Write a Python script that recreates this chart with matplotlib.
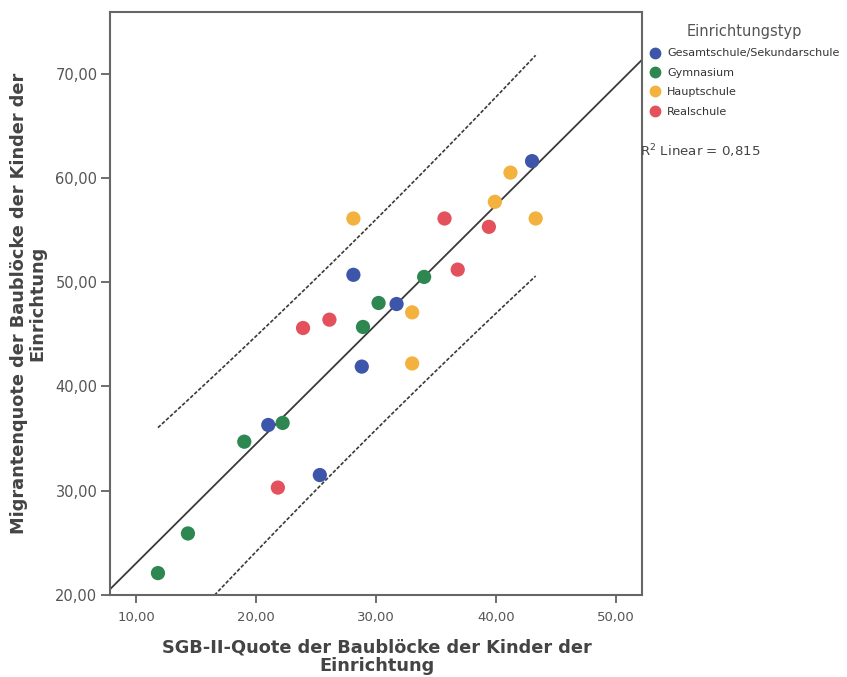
import numpy as np
import matplotlib
matplotlib.use("Agg")
import matplotlib.pyplot as plt
from matplotlib.lines import Line2D

plt.rcParams['font.family'] = ['DejaVu Sans']

# SGB-II-Quote (x) and Migrantenquote (y) per school, grouped by type
categories = ["Gesamtschule/Sekundarschule", "Gymnasium", "Hauptschule", "Realschule"]
colors = ["#3e56a9", "#2e8751", "#f3b13e", "#e3515c"]

gesamt_x = [21.0, 25.3, 28.1, 31.7, 28.8, 43.0]
gesamt_y = [36.3, 31.5, 50.7, 47.9, 41.9, 61.6]
gymn_x = [11.8, 14.3, 19.0, 22.2, 34.0, 30.2, 28.9]
gymn_y = [22.1, 25.9, 34.7, 36.5, 50.5, 48.0, 45.7]
haupt_x = [28.1, 33.0, 33.0, 41.2, 39.9, 43.3]
haupt_y = [56.1, 47.1, 42.2, 60.5, 57.7, 56.1]
real_x = [21.8, 35.7, 26.1, 23.9, 39.4, 36.8]
real_y = [30.3, 56.1, 46.4, 45.6, 55.3, 51.2]

xs = [gesamt_x, gymn_x, haupt_x, real_x]
ys = [gesamt_y, gymn_y, haupt_y, real_y]

r2_label = "R$^2$ Linear = 0,815"
x_ticks = [10, 20, 30, 40, 50]
y_ticks = [20, 30, 40, 50, 60, 70]
x_label = "SGB-II-Quote der Baublöcke der Kinder der\nEinrichtung"
y_label = "Migrantenquote der Baublöcke der Kinder der\nEinrichtung"

W, H = 847, 677
fig = plt.figure(figsize=(W / 100, H / 100), dpi=100)
ax = fig.add_axes([110 / W, 1 - 595 / H, 532 / W, 583 / H])
xlim = (7.8, 52.17)
ylim = (20.0, 75.9)

# linear fit with 95% prediction interval for single values
all_x = np.concatenate([np.array(v, float) for v in xs])
all_y = np.concatenate([np.array(v, float) for v in ys])
n = len(all_x)
b, a = np.polyfit(all_x, all_y, 1)
resid = all_y - (a + b * all_x)
s = np.sqrt(np.sum(resid ** 2) / (n - 2))
xbar = all_x.mean()
sxx = np.sum((all_x - xbar) ** 2)
t_crit = 2.069  # t(0.975, df=23)

line_col = "#3a3a3a"
fx = np.linspace(xlim[0], xlim[1], 200)
ax.plot(fx, a + b * fx, color=line_col, lw=1.3, zorder=2)

px = np.linspace(all_x.min(), all_x.max(), 200)
half = t_crit * s * np.sqrt(1 + 1 / n + (px - xbar) ** 2 / sxx)
for sign in (1, -1):
    ax.plot(px, a + b * px + sign * half, color=line_col, lw=1.2,
            ls=(0, (2.2, 1.1)), zorder=2)

for cx, cy, col in zip(xs, ys, colors):
    ax.scatter(cx, cy, s=105, color=col, edgecolors="none", zorder=3)

ax.set_xlim(*xlim)
ax.set_ylim(*ylim)
ax.set_xticks(x_ticks)
ax.set_yticks(y_ticks)
ax.set_xticklabels([f"{v:.2f}".replace(".", ",") for v in x_ticks])
ax.set_yticklabels([f"{v:.2f}".replace(".", ",") for v in y_ticks])
ax.tick_params(direction="out", width=1.2, color="#555555",
               labelcolor="#555555")
ax.tick_params(axis="x", length=5.5, labelsize=9.5, pad=6)
ax.tick_params(axis="y", length=6.5, labelsize=10.5, pad=2.5)
for sp in ax.spines.values():
    sp.set_color("#666666")
    sp.set_linewidth(1.5)

fig.text(377 / W, 1 - 657 / H, x_label, fontsize=12.8, fontweight="bold",
         color="#444444", ha="center", va="center", linespacing=1.05,
         multialignment="center")
fig.text(28 / W, 1 - 303 / H, y_label, fontsize=12.8, fontweight="bold",
         color="#444444", ha="center", va="center", rotation=90,
         linespacing=1.05, multialignment="center")

handles = [Line2D([], [], marker="o", ls="none", markersize=8.5,
                  markerfacecolor=c, markeredgecolor="none") for c in colors]
leg = fig.legend(handles, categories, title="Einrichtungstyp",
                 loc="upper left", bbox_to_anchor=(649.5 / W, 1 - 24 / H),
                 frameon=False, fontsize=8, title_fontsize=10.5,
                 handletextpad=0.6, labelspacing=0.85, borderaxespad=0,
                 borderpad=0, handlelength=1.0)
leg.get_title().set_color("#555555")
for txt in leg.get_texts():
    txt.set_color("#333333")

fig.text(640 / W, 1 - 151 / H, r2_label, fontsize=9.6, color="#444444",
         ha="left", va="center")

fig.savefig("out.png", dpi=100, facecolor="white")
